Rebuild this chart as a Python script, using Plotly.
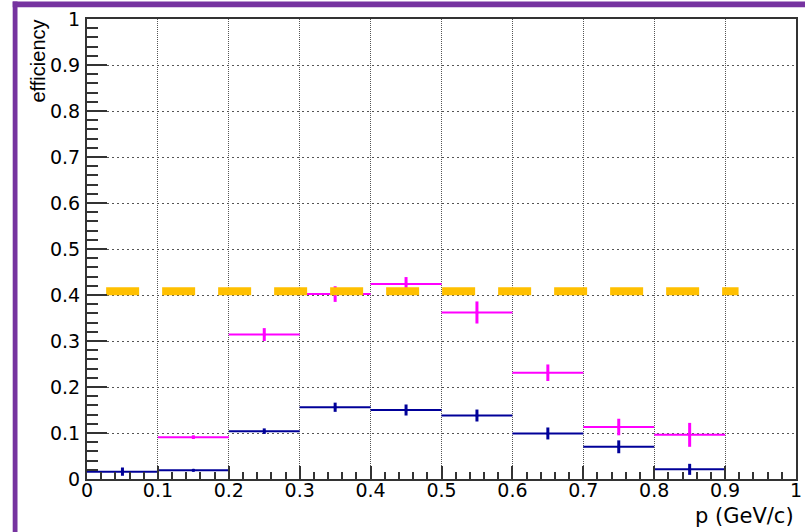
import plotly.graph_objects as go

# ---- data ----
bin_centers = [0.05, 0.15, 0.25, 0.35, 0.45, 0.55, 0.65, 0.75, 0.85]
bin_half_width = [0.05] * 9

blue_eff = [0.016, 0.019, 0.104, 0.156, 0.150, 0.138, 0.099, 0.070, 0.021]
blue_err = [0.009, 0.003, 0.006, 0.010, 0.012, 0.013, 0.013, 0.014, 0.012]

mag_centers = [0.15, 0.25, 0.35, 0.45, 0.55, 0.65, 0.75, 0.85]
mag_half_width = [0.05] * 8
mag_eff = [0.091, 0.314, 0.402, 0.424, 0.362, 0.231, 0.113, 0.096]
mag_err = [0.004, 0.014, 0.017, 0.015, 0.024, 0.018, 0.018, 0.026]

ref_x = [0.027, 0.919]
ref_y = [0.408, 0.408]

tick_vals = [0, 0.1, 0.2, 0.3, 0.4, 0.5, 0.6, 0.7, 0.8, 0.9, 1.0]
tick_text = ["0", "0.1", "0.2", "0.3", "0.4", "0.5", "0.6", "0.7", "0.8", "0.9", "1"]

BLUE = "#000099"
MAGENTA = "#ff00ff"
ORANGE = "#ffc000"
PURPLE = "#7633a0"
AXIS = "#333333"

fig = go.Figure()

fig.add_trace(go.Scatter(
    x=bin_centers, y=blue_eff, mode="markers",
    marker=dict(size=3, color=BLUE),
    error_x=dict(type="data", array=bin_half_width, width=0, thickness=2, color=BLUE),
    error_y=dict(type="data", array=blue_err, width=0, thickness=3, color=BLUE),
    showlegend=False, hoverinfo="skip",
))

fig.add_trace(go.Scatter(
    x=mag_centers, y=mag_eff, mode="markers",
    marker=dict(size=3, color=MAGENTA),
    error_x=dict(type="data", array=mag_half_width, width=0, thickness=2, color=MAGENTA),
    error_y=dict(type="data", array=mag_err, width=0, thickness=3, color=MAGENTA),
    showlegend=False, hoverinfo="skip",
))

fig.add_trace(go.Scatter(
    x=ref_x, y=ref_y, mode="lines",
    line=dict(color=ORANGE, width=8, dash="33px,23px"),
    showlegend=False, hoverinfo="skip",
))

tickfont = dict(family="DejaVu Sans", size=19, color="black")

fig.update_xaxes(
    range=[0, 1], tickvals=tick_vals, ticktext=tick_text,
    ticks="inside", ticklen=13, tickwidth=2, tickcolor=AXIS,
    minor=dict(dtick=0.02, ticks="inside", ticklen=7, tickwidth=2, tickcolor=AXIS, showgrid=False),
    showline=True, linewidth=2, linecolor=AXIS, mirror=True,
    showgrid=True, gridcolor="#555555", gridwidth=1, griddash="1px,1px",
    zeroline=False, tickfont=tickfont, automargin=False, ticklabelstandoff=-7,
)
fig.update_yaxes(
    range=[0, 1], tickvals=tick_vals, ticktext=tick_text,
    ticks="inside", ticklen=20, tickwidth=2, tickcolor=AXIS,
    minor=dict(dtick=0.02, ticks="inside", ticklen=11, tickwidth=2, tickcolor=AXIS, showgrid=False),
    showline=True, linewidth=2, linecolor=AXIS, mirror=True,
    showgrid=True, gridcolor="#555555", gridwidth=1, griddash="2px,3px",
    zeroline=False, tickfont=tickfont, automargin=False, ticklabelstandoff=1,
)

L, R, T, B = 87, 9, 19, 53
W, H = 805, 532
pw, ph = W - L - R, H - T - B

def px(p):
    return (p - L) / pw

def py(p):
    return (H - B - p) / ph

fig.add_annotation(
    text="p (GeV/c)", xref="paper", yref="paper",
    x=1.0, y=py(516), xanchor="right", yanchor="middle",
    showarrow=False, font=dict(family="DejaVu Sans", size=21, color="black"),
)
fig.add_annotation(
    text="efficiency", xref="paper", yref="paper",
    x=px(38), y=py(18), xanchor="center", yanchor="top", textangle=-90,
    showarrow=False, font=dict(family="Liberation Sans", size=20, color="black"),
)

# purple frame (left and top)
fig.add_shape(type="rect", xref="paper", yref="paper",
              x0=px(12.7), x1=px(17.5), y0=py(H), y1=py(1.5),
              fillcolor=PURPLE, line=dict(width=0), layer="above")
fig.add_shape(type="rect", xref="paper", yref="paper",
              x0=px(12.7), x1=px(W), y0=py(7.3), y1=py(1.5),
              fillcolor=PURPLE, line=dict(width=0), layer="above")

fig.update_layout(
    width=W, height=H, autosize=False,
    margin=dict(l=L, r=R, t=T, b=B, pad=0, autoexpand=False),
    paper_bgcolor="white", plot_bgcolor="white",
    showlegend=False,
)

fig.write_html("out.html")
